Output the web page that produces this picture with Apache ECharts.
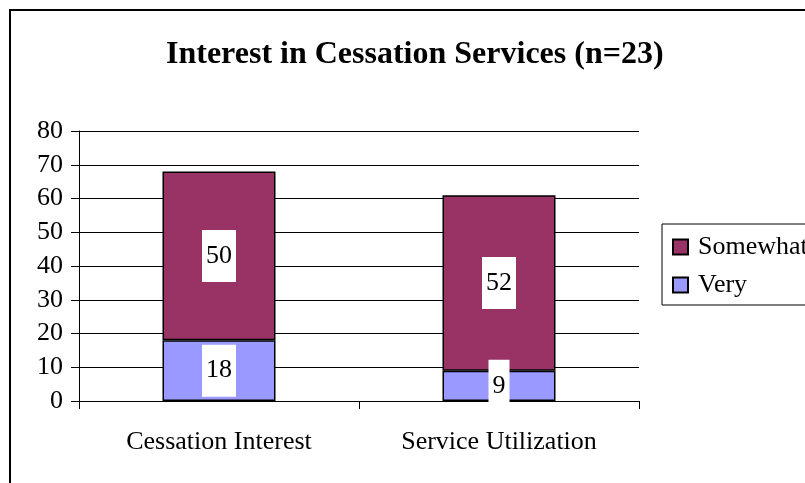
<!DOCTYPE html>
<html>
<head>
<meta charset="utf-8">
<script src="https://cdn.jsdelivr.net/npm/echarts@6/dist/echarts.min.js"></script>
<style>
  html, body { margin: 0; padding: 0; background: #fff; }
  #chart { width: 805px; height: 483px; }
</style>
</head>
<body>
<div id="chart"></div>
<script>
const categories = ['Cessation Interest', 'Service Utilization']
const veryValues = [18, 9]
const somewhatValues = [50, 52]
const yTicks = [0, 10, 20, 30, 40, 50, 60, 70, 80]

const serif = '"Liberation Serif", "Times New Roman", serif'

const barLabel = {
  show: true,
  position: 'inside',
  color: '#000',
  fontFamily: serif,
  fontSize: 26,
  backgroundColor: '#fff',
  padding: [13, 4]
}

const chart = echarts.init(document.getElementById('chart'))
chart.setOption({
  animation: false,
  title: {
    text: 'Interest in Cessation Services (n=23)',
    left: 161,
    top: 34,
    textStyle: { fontFamily: serif, fontSize: 32, fontWeight: 'bold', color: '#000' }
  },
  legend: {
    data: ['Somewhat', 'Very'],
    orient: 'vertical',
    left: 662,
    top: 224,
    borderColor: '#000',
    borderWidth: 1,
    padding: [10, 40, 7, 10],
    itemWidth: 15,
    itemHeight: 15,
    itemGap: 12,
    icon: 'rect',
    textStyle: { fontFamily: serif, fontSize: 26, color: '#000', padding: [0, 0, 0, 5] }
  },
  graphic: [{
    type: 'rect',
    shape: { x: 10, y: 10, width: 900, height: 600 },
    style: { fill: 'none', stroke: '#000', lineWidth: 2 },
    silent: true
  }],
  grid: { left: 79, right: 166, top: 131, bottom: 82 },
  xAxis: {
    type: 'category',
    data: categories,
    axisLine: { show: true, lineStyle: { color: '#000' } },
    axisTick: { show: true, length: 8, lineStyle: { color: '#000' } },
    axisLabel: { fontFamily: serif, fontSize: 26, color: '#000', margin: 28 }
  },
  yAxis: {
    type: 'value',
    min: yTicks[0],
    max: yTicks[yTicks.length - 1],
    interval: yTicks[1] - yTicks[0],
    axisLine: { show: true, lineStyle: { color: '#000' } },
    axisTick: { show: true, length: 8, lineStyle: { color: '#000' } },
    splitLine: { show: true, lineStyle: { color: '#000' } },
    axisLabel: { fontFamily: serif, fontSize: 26, color: '#000', margin: 16 }
  },
  series: [
    {
      name: 'Very',
      type: 'bar',
      stack: 'total',
      barWidth: 113,
      data: veryValues,
      itemStyle: { color: '#9999FF', borderColor: '#000', borderWidth: 1.5 },
      label: barLabel
    },
    {
      name: 'Somewhat',
      type: 'bar',
      stack: 'total',
      barWidth: 113,
      data: somewhatValues,
      itemStyle: { color: '#993366', borderColor: '#000', borderWidth: 1.5 },
      label: barLabel
    }
  ]
})
</script>
</body>
</html>
